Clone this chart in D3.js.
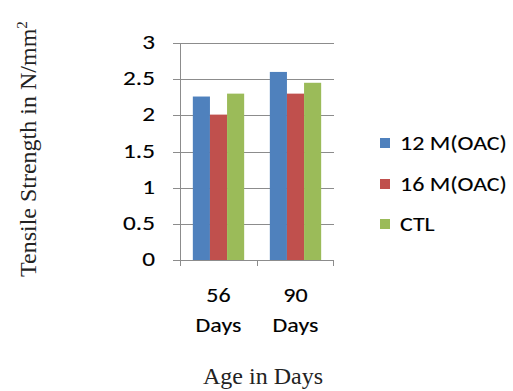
<!DOCTYPE html>
<html><head><meta charset="utf-8">
<script src="https://cdn.jsdelivr.net/npm/d3@7"></script>
<style>body{margin:0;background:#fff}</style>
</head><body>
<script>
const categories = [["56","Days"],["90","Days"]];
const seriesNames = ["12 M(OAC)","16 M(OAC)","CTL"];
const seriesColors = ["#4f81bd","#c0504d","#9bbb59"];
const values12 = [2.26, 2.60];
const values16 = [2.01, 2.30];
const valuesCTL = [2.30, 2.45];
const yTicks = [0,0.5,1,1.5,2,2.5,3];
const yTickLabels = ["0","0.5","1","1.5","2","2.5","3"];
const series = [values12, values16, valuesCTL];

const W=513,H=391;
const svg=d3.select("body").append("svg").attr("width",W).attr("height",H);
const x0=d3.scaleBand().domain([0,1]).range([180,334]).paddingInner(0).paddingOuter(0);
const x1=d3.scaleBand().domain([0,1,2]).range([0,x0.bandwidth()]).paddingInner(0).paddingOuter(0.75);
const y=d3.scaleLinear().domain([0,3]).range([260,43]);
const font="Carlito, Calibri, 'Open Sans', 'Liberation Sans', sans-serif";
const SX=1.2;
function stext(x,yy,txt,size,anchor){
  return svg.append("text").attr("transform",`translate(${x},${yy}) scale(${SX},1)`)
   .attr("text-anchor",anchor||"start").attr("font-family",font).attr("font-size",size)
   .attr("fill","#000").attr("stroke","#000").attr("stroke-width",0.12).text(txt);
}

// grid
svg.append("g").selectAll("line").data(yTicks).join("line")
 .attr("x1",173).attr("x2",334).attr("y1",d=>Math.round(y(d))+0.5).attr("y2",d=>Math.round(y(d))+0.5)
 .attr("stroke","#8c8c8c").attr("stroke-width",1);
// y axis
svg.append("line").attr("x1",180.5).attr("x2",180.5).attr("y1",43).attr("y2",260).attr("stroke","#8c8c8c");
// x ticks
const xt=[x0(0),x0(1),x0(1)+x0.bandwidth()-1];
svg.append("g").selectAll("line").data(xt).join("line")
 .attr("x1",d=>Math.round(d)+0.5).attr("x2",d=>Math.round(d)+0.5)
 .attr("y1",260).attr("y2",266).attr("stroke","#8c8c8c");
// y labels
yTicks.forEach((d,i)=>stext(155,y(d)+6,yTickLabels[i],21,"end"));
// bars
categories.forEach((c,ci)=>{
  series.forEach((s,si)=>{
    svg.append("rect").attr("x",x0(ci)+x1(si)).attr("width",x1.bandwidth())
     .attr("y",y(s[ci])).attr("height",y(0)-y(s[ci])).attr("fill",seriesColors[si]);
  });
  const cx=x0(ci)+x0.bandwidth()/2;
  stext(cx,302,c[0],20,"middle");
  stext(cx,332,c[1],20,"middle");
});
// legend
const legBase=[150,191,231];
seriesNames.forEach((n,i)=>{
  svg.append("rect").attr("x",380).attr("y",legBase[i]-12).attr("width",10).attr("height",10).attr("fill",seriesColors[i]);
  stext(400,legBase[i],n,20,"start");
});
// y title
const yt=svg.append("text").attr("transform","translate(36,277) rotate(-90)")
 .attr("font-family","'Liberation Serif','Times New Roman',serif").attr("font-size",24).attr("fill","#222");
yt.append("tspan").text("Tensile Strength in N/mm");
yt.append("tspan").attr("dy",-9).attr("font-size",15).text("2");
// x title
svg.append("text").attr("x",263).attr("y",384).attr("text-anchor","middle")
 .attr("font-family","'Liberation Serif','Times New Roman',serif").attr("font-size",24).attr("fill","#222").text("Age in Days");
</script>
</body></html>
